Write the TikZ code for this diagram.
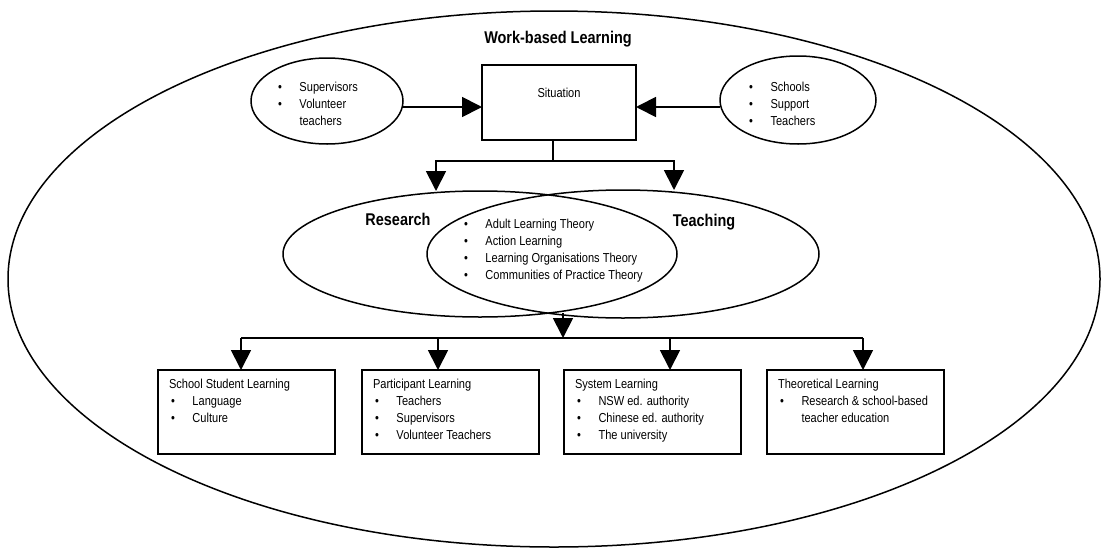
\documentclass[tikz,border=0pt]{standalone}
\usepackage{fontspec}
\setmainfont{Liberation Sans}[FakeStretch=0.85]
\usetikzlibrary{arrows.meta,shapes.geometric}
\newcommand{\bu}{\makebox[21.5pt][l]{•}}
\newcommand{\ind}{\hspace*{21.5pt}}
\newcommand{\lst}[1]{\vtop{\baselineskip=17pt\lineskiplimit=-100pt\halign{##\hfil\cr#1\crcr}}}
\begin{document}
\begin{tikzpicture}[x=1pt,y=-1pt,
  every node/.style={font=\fontsize{13}{17}\selectfont, inner sep=0pt, outer sep=0pt},
  bold/.style={font=\fontsize{17}{20}\selectfont\bfseries},
  ell/.style={draw, ellipse, line width=1.5pt},
  box/.style={draw, rectangle, line width=1.9pt},
  conn/.style={line width=1.8pt},
  arr/.style={conn, -{Triangle[length=20pt,width=20pt]}}]
\useasboundingbox (0,0) rectangle (1107,549);
\node[ell, minimum width=1092pt, minimum height=536pt] (outer) at (554,279) {};
\node[bold] (title) at (558,39) {Work-based Learning};
% top row
\node[ell, minimum width=152pt, minimum height=86pt] (sup) at (327,101) {};
\node[ell, minimum width=156pt, minimum height=88pt] (sch) at (798,100) {};
\node[box, minimum width=154pt, minimum height=75pt] (sit) at (559,102.5) {};
\node (sittext) at (559,93) {Situation};
\node[anchor=base west] (suptext) at (278,91) {\lst{\bu Supervisors\cr\bu Volunteer\cr\ind teachers}};
\node[anchor=base west] (schtext) at (749,91) {\lst{\bu Schools\cr\bu Support\cr\bu Teachers}};
\draw[arr] ([yshift=-6pt]sup.east) -- ([yshift=-6pt]sup.east -| sit.west);
\draw[arr] ([yshift=-7pt]sch.west) -- ([yshift=-7pt]sch.west -| sit.east);
% split to research / teaching
\node[ell, minimum width=394pt, minimum height=126pt] (res) at (480,254) {};
\node[ell, minimum width=392pt, minimum height=128pt] (tea) at (623,254) {};
\coordinate (sj) at ([xshift=-6pt,yshift=-21pt]sit.south);
\coordinate (jl) at (436,161);
\coordinate (jr) at (674,161);
\draw[conn] ([xshift=-6pt]sit.south) -- (sj);
\draw[arr] (sj) -| (jl |- res.north);
\draw[arr] (sj) -| (jr |- tea.north);
\node[bold] (reslabel) at (398,219) {Research};
\node[bold] (tealabel) at (704,222) {Teaching};
\node[anchor=base west] (theory) at (464,228) {\lst{\bu Adult Learning Theory\cr\bu Action Learning\cr\bu Learning Organisations Theory\cr\bu Communities of Practice Theory}};
% bottom row
\node[box, minimum width=177pt, minimum height=84pt, anchor=north west] (b1) at (158,370) {};
\node[box, minimum width=177pt, minimum height=84pt, anchor=north west] (b2) at (362,370) {};
\node[box, minimum width=177pt, minimum height=84pt, anchor=north west] (b3) at (564,370) {};
\node[box, minimum width=177pt, minimum height=84pt, anchor=north west] (b4) at (767,370) {};
\coordinate (lens) at (563,313);
\coordinate (hl) at (241,338);
\coordinate (h2) at (438,338);
\coordinate (h3) at (670,338);
\coordinate (hr) at (863,338);
\draw[arr] (lens) -- (lens |- hl);
\draw[conn] (hl) -- (hr);
\draw[arr] (hl) -- (hl |- b1.north);
\draw[arr] (h2) -- (h2 |- b2.north);
\draw[arr] (h3) -- (h3 |- b3.north);
\draw[arr] (hr) -- (hr |- b4.north);
\node[anchor=base west] (t1) at ([xshift=11pt,yshift=-18pt]b1.north west) {\lst{School Student Learning\cr\hspace*{2pt}\bu Language\cr\hspace*{2pt}\bu Culture}};
\node[anchor=base west] (t2) at ([xshift=11pt,yshift=-18pt]b2.north west) {\lst{Participant Learning\cr\hspace*{2pt}\bu Teachers\cr\hspace*{2pt}\bu Supervisors\cr\hspace*{2pt}\bu Volunteer Teachers}};
\node[anchor=base west] (t3) at ([xshift=11pt,yshift=-18pt]b3.north west) {\lst{System Learning\cr\hspace*{2pt}\bu NSW ed. authority\cr\hspace*{2pt}\bu Chinese ed. authority\cr\hspace*{2pt}\bu The university}};
\node[anchor=base west] (t4) at ([xshift=11pt,yshift=-18pt]b4.north west) {\lst{Theoretical Learning\cr\hspace*{2pt}\bu Research \& school-based\cr\hspace*{2pt}\ind teacher education}};
\end{tikzpicture}
\end{document}
